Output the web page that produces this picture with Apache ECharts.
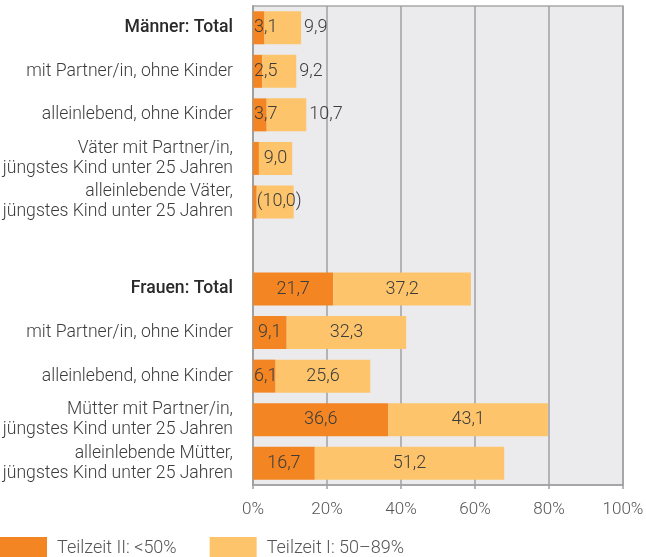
<!DOCTYPE html>
<html>
<head>
<meta charset="utf-8">
<script src="https://cdn.jsdelivr.net/npm/echarts@6/dist/echarts.min.js"></script>
<style>
  html, body { margin: 0; padding: 0; background: #fff; }
  #chart { width: 646px; height: 557px; }
</style>
</head>
<body>
<div id="chart"></div>
<script>
const categories = [
  "Männer: Total",
  "mit Partner/in, ohne Kinder",
  "alleinlebend, ohne Kinder",
  "Väter mit Partner/in,\njüngstes Kind unter 25 Jahren",
  "alleinlebende Väter,\njüngstes Kind unter 25 Jahren",
  "",
  "Frauen: Total",
  "mit Partner/in, ohne Kinder",
  "alleinlebend, ohne Kinder",
  "Mütter mit Partner/in,\njüngstes Kind unter 25 Jahren",
  "alleinlebende Mütter,\njüngstes Kind unter 25 Jahren"
];
// Teilzeit II: <50%
const teilzeit2 = [3.1, 2.5, 3.7, 1.6, 1.0, null, 21.7, 9.1, 6.1, 36.6, 16.7];
// Teilzeit I: 50-89%
const teilzeit1 = [9.9, 9.2, 10.7, 9.0, 10.0, null, 37.2, 32.3, 25.6, 43.1, 51.2];
const boldRows = ["Männer: Total", "Frauen: Total"];
const hiddenLabelRows = [3, 4];      // orange value not printed
const bracketRows = [4];            // uncertain value in brackets
const xTicks = [0, 20, 40, 60, 80, 100];

const fmt = v => v.toFixed(1).replace(".", ",");
const textColor = "#3c3c3c";
const font = "Roboto";

const chart = echarts.init(document.getElementById("chart"));

const darkData = teilzeit2.map((v, i) => {
  if (v === null) return "-";
  const item = { value: v };
  if (hiddenLabelRows.includes(i)) item.label = { show: false };
  else if (v < 7) item.label = { position: "insideLeft", distance: 1 };
  return item;
});

const lightData = teilzeit1.map((v, i) => {
  if (v === null) return "-";
  const item = { value: v };
  if (i < 3) item.label = { position: "right", distance: 3 };
  else if (bracketRows.includes(i)) item.label = { position: "insideLeft", distance: 0 };
  return item;
});

const option = {
  animation: false,
  textStyle: { fontFamily: font },
  grid: {
    left: 253, right: 23, top: 6, bottom: 72,
    outerBoundsMode: "none",
    show: true,
    backgroundColor: "#EBEBEE",
    borderColor: "#A9A9AB",
    borderWidth: 1.5
  },
  legend: {
    left: 0,
    top: 537,
    padding: 0,
    itemWidth: 47,
    itemHeight: 22,
    itemGap: 33,
    icon: "rect",
    textStyle: { fontSize: 18, color: "#555", fontFamily: font, fontWeight: 300, padding: [0, 0, 0, 5] },
    data: ["Teilzeit II: <50%", "Teilzeit I: 50–89%"]
  },
  xAxis: {
    type: "value",
    min: 0, max: 100, interval: 20,
    axisLine: { show: true, lineStyle: { color: "#A0A0A2", width: 1.5 } },
    axisTick: { show: true, length: 4, lineStyle: { color: "#A0A0A2", width: 1.5 } },
    splitLine: { show: true, lineStyle: { color: "#A0A0A2", width: 1.5 } },
    axisLabel: {
      formatter: v => xTicks.includes(v) ? v + "%" : "",
      fontSize: 17, color: "#555", margin: 16, fontFamily: font, fontWeight: 300
    }
  },
  yAxis: {
    type: "category",
    inverse: true,
    data: categories,
    axisLine: { show: true, lineStyle: { color: "#A0A0A2", width: 2 } },
    axisTick: { show: false },
    axisLabel: {
      fontSize: 17.6,
      lineHeight: 20,
      margin: 20,
      color: textColor,
      fontFamily: font,
      fontWeight: 300,
      formatter: v => boldRows.includes(v) ? "{b|" + v + "}" : v,
      rich: {
        b: { fontSize: 17.6, fontWeight: 500, color: "#2a2a2a", fontFamily: font }
      }
    }
  },
  series: [
    {
      name: "Teilzeit II: <50%",
      type: "bar",
      stack: "t",
      barWidth: 33,
      itemStyle: { color: "#F38523" },
      label: {
        show: true, position: "inside", color: textColor, fontSize: 18,
        fontFamily: font, fontWeight: 300,
        formatter: p => fmt(p.value)
      },
      data: darkData
    },
    {
      name: "Teilzeit I: 50–89%",
      type: "bar",
      stack: "t",
      barWidth: 33,
      itemStyle: { color: "#FDC46B" },
      label: {
        show: true, position: "inside", color: textColor, fontSize: 18,
        fontFamily: font, fontWeight: 300,
        formatter: p => bracketRows.includes(p.dataIndex) ? "(" + fmt(p.value) + ")" : fmt(p.value)
      },
      data: lightData
    }
  ]
};

chart.setOption(option);
</script>
</body>
</html>
